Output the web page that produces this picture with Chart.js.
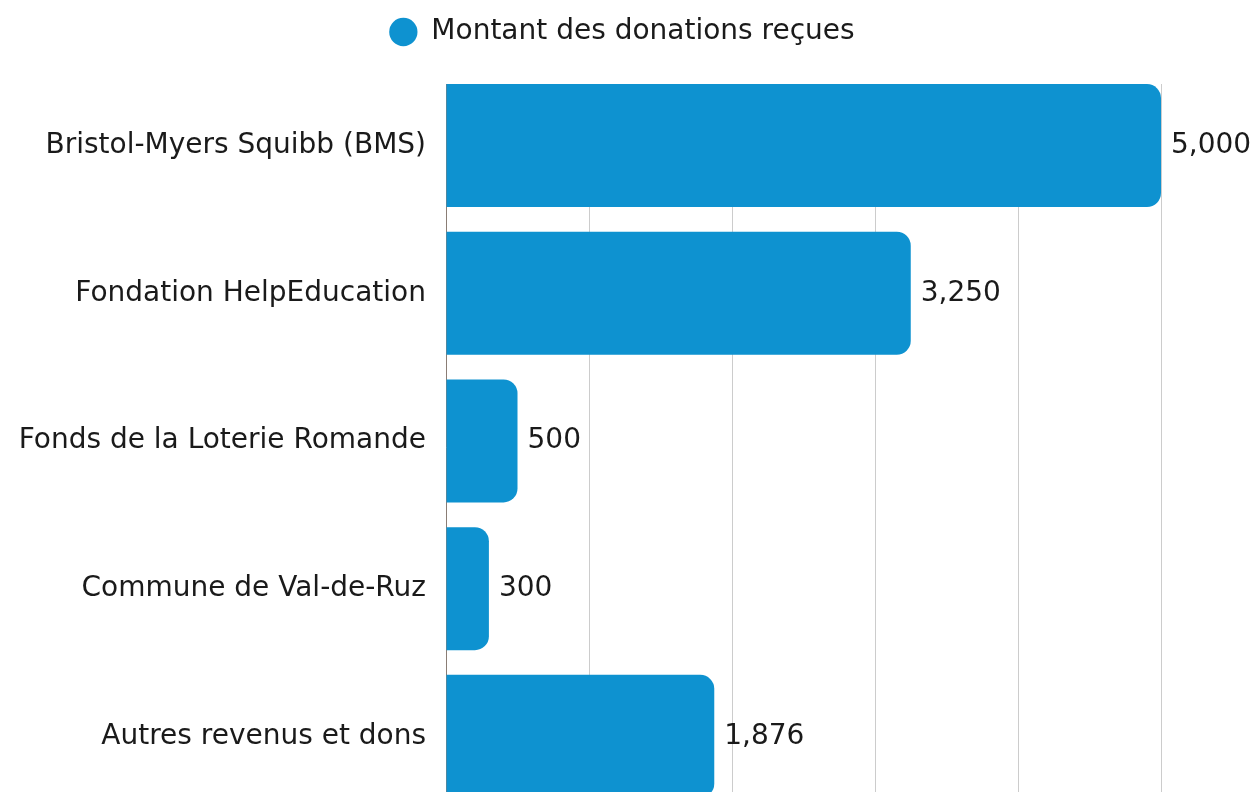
<!DOCTYPE html>
<html>
<head>
<meta charset="utf-8">
<script src="https://cdn.jsdelivr.net/npm/chart.js@4/dist/chart.umd.min.js"></script>
<style>
    html, body { margin: 0; padding: 0; background: #fff; overflow: hidden; }
    #wrap { position: relative; width: 1251px; height: 847px; }
</style>
</head>
<body>
<div id="wrap"><canvas id="chart"></canvas></div>
<script>
// Chart data
const categories = [
    'Bristol-Myers Squibb (BMS)',
    'Fondation HelpEducation',
    'Fonds de la Loterie Romande',
    'Commune de Val-de-Ruz',
    'Autres revenus et dons'
];
const donations = [5000, 3250, 500, 300, 1876];
const seriesLabel = 'Montant des donations reçues';
const xTicks = [0, 1000, 2000, 3000, 4000, 5000];

const colors = {
    bar: '#0E92D0',
    text: '#1a1a1a',
    grid: '#cccccc',
    axis: '#8a7d75'
};

const fontFamily = "'DejaVu Sans', sans-serif";
const fontSize = 28;
const rightPad = 90;

// Fixed legend band + value labels at the end of each bar
const valueLabels = {
    id: 'valueLabels',
    beforeInit(chart) {
        const legend = chart.legend;
        const fit = legend.fit;
        legend.fit = function() {
            fit.call(this);
            this.height = 84;
        };
        // center the legend on the canvas, not the padded box
        const draw = legend.draw;
        legend.draw = function() {
            this.right += rightPad - 7;
            this.width += rightPad - 7;
            draw.call(this);
            this.right -= rightPad - 7;
            this.width -= rightPad - 7;
        };
    },
    afterDatasetsDraw(chart) {
        const ctx = chart.ctx;
        const meta = chart.getDatasetMeta(0);
        ctx.save();
        ctx.font = fontSize + 'px ' + fontFamily;
        ctx.fillStyle = colors.text;
        ctx.textAlign = 'left';
        ctx.textBaseline = 'middle';
        meta.data.forEach((bar, i) => {
            ctx.fillText(donations[i].toLocaleString('en-US'), bar.x + 10, bar.y);
        });
        ctx.restore();
    }
};

Chart.defaults.font.family = fontFamily;
Chart.defaults.font.size = fontSize;
Chart.defaults.color = colors.text;

new Chart(document.getElementById('chart'), {
    type: 'bar',
    data: {
        datasets: [{
            label: seriesLabel,
            data: donations.map((v, i) => ({ x: v, y: i })),
            backgroundColor: colors.bar,
            borderRadius: 14,
            borderSkipped: 'start',
            categoryPercentage: 1,
            barPercentage: 0.833
        }]
    },
    options: {
        indexAxis: 'y',
        responsive: true,
        maintainAspectRatio: false,
        animation: false,
        layout: {
            padding: { left: 0, right: rightPad, top: 0, bottom: 0 }
        },
        plugins: {
            legend: {
                position: 'top',
                labels: {
                    usePointStyle: true,
                    pointStyle: 'circle',
                    boxHeight: 20,
                    padding: 18,
                    color: colors.text
                }
            },
            tooltip: { enabled: false }
        },
        scales: {
            x: {
                type: 'linear',
                min: xTicks[0],
                max: xTicks[xTicks.length - 1],
                afterBuildTicks(scale) {
                    scale.ticks = xTicks.map(v => ({ value: v }));
                },
                ticks: { display: false },
                grid: { color: colors.grid, lineWidth: 1, drawTicks: false },
                border: { display: false }
            },
            y: {
                type: 'linear',
                reverse: true,
                offset: false,
                bounds: 'data',
                min: -0.4167,
                max: 4.5,
                afterBuildTicks(scale) {
                    scale.ticks = categories.map((c, i) => ({ value: i }));
                },
                afterFit(scale) {
                    scale.width = 446;
                },
                ticks: {
                    padding: 20,
                    autoSkip: false,
                    callback: (v) => categories[v] || ''
                },
                grid: { display: false, drawTicks: false, offset: false },
                border: { display: true, color: colors.axis, width: 1 }
            }
        }
    },
    plugins: [valueLabels]
});
</script>
</body>
</html>
